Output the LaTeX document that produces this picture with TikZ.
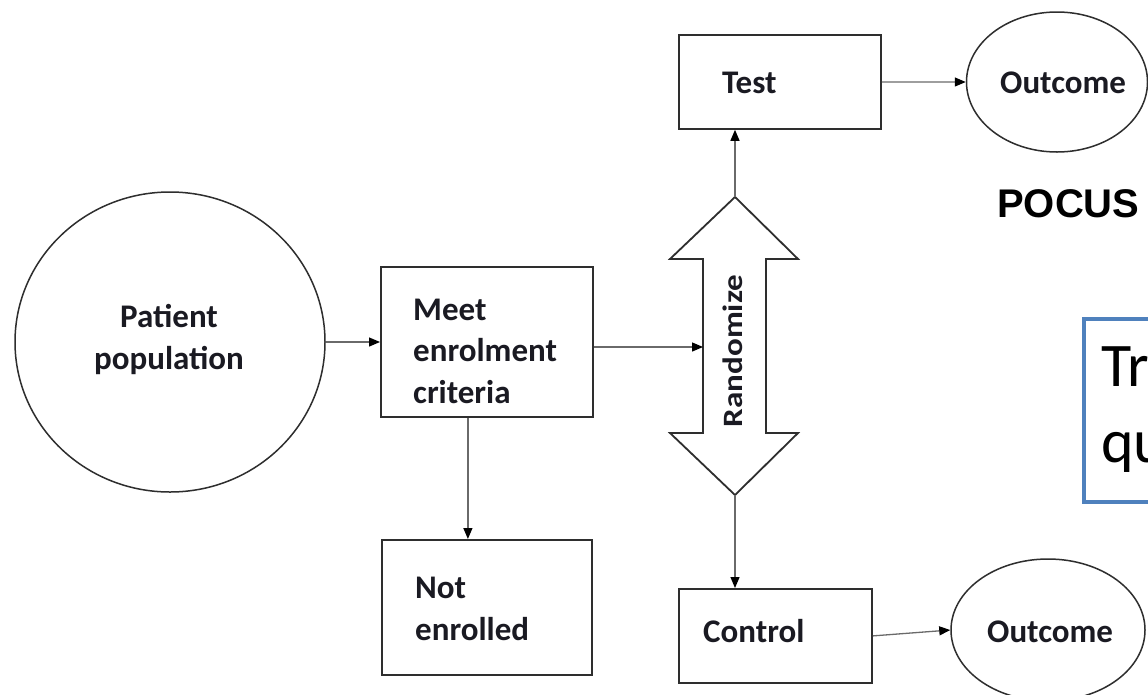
\documentclass[tikz,border=0pt]{standalone}
\usepackage{fontspec}
\setmainfont{Carlito}
\newfontfamily\arialfam{Liberation Sans}
\newfontfamily\widefam[FakeStretch=1.18]{Carlito}
\usetikzlibrary{shapes.geometric,arrows.meta}

\definecolor{edgec}{HTML}{2E2E2E}
\definecolor{linkc}{HTML}{6A6A6A}
\definecolor{textc}{HTML}{1A1A22}
\definecolor{qblue}{HTML}{4F81BD}

\tikzset{
  stepbox/.style={draw=edgec, line width=1.8pt, rectangle, inner sep=0pt,
                  anchor=north west},
  roundnode/.style={draw=edgec, line width=1.5pt, ellipse, inner sep=0pt},
  conn/.style={draw=linkc, line width=1.3pt,
               -{Triangle[length=11pt,width=9pt,color=black]}},
  lbl/.style={inner sep=0pt, text=textc, align=left,
              font=\fontsize{33}{41.5}\selectfont\bfseries},
}

\begin{document}
\begin{tikzpicture}[x=1pt, y=-1pt]
\useasboundingbox (0,0) rectangle (1148,694);
\clip (0,0) rectangle (1148,694);
\fill[white] (0,0) rectangle (1148,694);

% population and enrolment (multi-line labels are anchored on their last line)
\node[roundnode, minimum width=310pt, minimum height=300pt] (pop) at (170,342) {};
\node[lbl, anchor=base, align=center] (poplbl) at (169,369) {Patient\\population};

\node[stepbox, minimum width=212pt, minimum height=150pt] (meet) at (380,266) {};
\node[lbl, anchor=base west] (meetlbl) at (413,403) {Meet\\enrolment\\criteria};

\node[stepbox, minimum width=210pt, minimum height=135pt] (notenr) at (381,539) {};
\node[lbl, anchor=base west] (notenrlbl) at (415,640) {Not\\enrolled};

% randomisation double arrow
\coordinate (rtop) at (735,197);
\coordinate (rbot) at (735,495);
\coordinate (rin) at (703,347);
\draw[edgec, line width=1.8pt, line join=miter, fill=white]
  (rtop) -- (798,259) -- (766,259) -- (766,433) -- (798,433) -- (rbot)
  -- (670,433) -- (703,433) -- (703,259) -- (670,259) -- cycle;
\node[inner sep=0pt, text=textc, rotate=90, anchor=base,
      font=\fontsize{28}{30}\selectfont\widefam\bfseries] (randlbl) at (742,351) {Randomize};

% study arms
\node[stepbox, minimum width=202pt, minimum height=94pt] (test) at (678,34) {};
\node[lbl, anchor=base west] (testlbl) at (722,93) {Test};

\node[stepbox, minimum width=193pt, minimum height=94pt] (ctrl) at (678,588) {};
\node[lbl, anchor=base west] (ctrllbl) at (703,642) {Control};

\node[roundnode, minimum width=181pt, minimum height=140pt] (out1) at (1057,82) {};
\node[lbl, anchor=base west] (out1lbl) at (1000,93) {Outcome};

\node[roundnode, minimum width=194pt, minimum height=142pt] (out2) at (1048,630) {};
\node[lbl, anchor=base west] (out2lbl) at (987,642) {Outcome};

\node[inner sep=0pt, anchor=base west, font=\fontsize{40}{44}\selectfont\arialfam\bfseries]
  (pocus) at (997,217) {POCUS};

% question box, running on past the right edge
\node[draw=qblue, line width=4pt, rectangle, inner sep=0pt, anchor=north west,
      minimum width=140pt, minimum height=183pt] (qbox) at (1082,317) {};
\node[inner sep=0pt, anchor=base west, align=left, text=black,
      font=\fontsize{62}{76}\selectfont] (qtext) at (1101,462) {Tr\\qu};

% connectors
\draw[conn] (pop.east) -- (pop.east -| meet.west);
\draw[conn] (meet.east |- rin) -- (rin);
\draw[conn] ([xshift=-19pt]meet.south) -- ([xshift=-19pt]notenr.north);
\draw[conn] (rtop) -- (rtop |- test.south);
\draw[conn] (rbot) -- (rbot |- ctrl.north);
\draw[conn] (test.east) -- (out1.west);
\draw[conn] (ctrl.east) -- (out2.west);
\end{tikzpicture}
\end{document}
